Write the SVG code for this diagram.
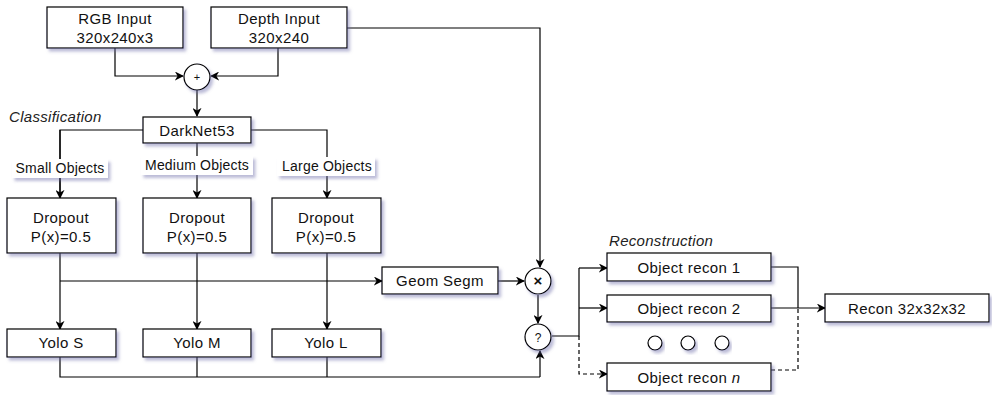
<svg xmlns="http://www.w3.org/2000/svg" width="992" height="395" viewBox="0 0 992 395">
<style>
.box{fill:#fff;stroke:#000;stroke-width:1.2;filter:url(#sh)}
.circ{fill:#fff;stroke:#000;stroke-width:1.2;filter:url(#sh)}
.t{font-family:"Liberation Sans",Arial,sans-serif;font-size:15px;letter-spacing:0.4px;fill:#111;text-anchor:middle}
.s{font-size:14px;letter-spacing:0.2px}
.it{font-family:"Liberation Sans",Arial,sans-serif;font-size:15px;letter-spacing:0.3px;font-style:italic;fill:#222}
.c{fill:none;stroke:#000;stroke-width:1.2}
.a{marker-end:url(#ar)}
.d{stroke-dasharray:4 3}
.lb{fill:#fff}
</style>
<defs>
<filter id="sh" x="-20%" y="-20%" width="140%" height="150%">
<feDropShadow dx="2.5" dy="3" stdDeviation="1.8" flood-color="#6a6aa8" flood-opacity="0.45"/>
</filter>
<marker id="ar" viewBox="0 0 10 10" refX="9" refY="5" markerWidth="9" markerHeight="9" markerUnits="userSpaceOnUse" orient="auto">
<path d="M0,0 L10,5 L0,10 L3,5 Z" fill="#000"/>
</marker>
</defs>
<rect width="992" height="395" fill="#fff"/>
<g id="connectors">
<path class="c a" d="M115,48 V76 H183"/>
<path class="c a" d="M278,48 V76 H211"/>
<path class="c a" d="M197,90 V116"/>
<path class="c a" d="M347,28 H540 V267"/>
<path class="c" d="M143,130 H60 V197"/>
<path class="c a" d="M60,130 V198"/>
<path class="c a" d="M197,143 V198"/>
<path class="c a" d="M251,130 H327 V198"/>
<path class="c a" d="M60,253 V329"/>
<path class="c a" d="M197,253 V329"/>
<path class="c a" d="M327,253 V329"/>
<path class="c a" d="M60,281 H382"/>
<path class="c a" d="M498,281 H524"/>
<path class="c a" d="M538,295 V323"/>
<path class="c" d="M60,357 V377 H540"/>
<path class="c" d="M197,357 V377"/>
<path class="c" d="M327,357 V377"/>
<path class="c a" d="M540,377 V351"/>
<path class="c" d="M552,336 H579 V268"/>
<path class="c a" d="M579,268 H607"/>
<path class="c a" d="M579,308 H607"/>
<path class="c d a" d="M579,336 V374 H607"/>
<path class="c" d="M771,267 H798 V308"/>
<path class="c a" d="M771,308 H825"/>
<path class="c d" d="M771,370 H798 V308"/>
</g>
<g id="rgb"><rect class="box" x="47" y="7" width="136" height="41"/><text class="t" x="115" y="24">RGB Input</text><text class="t" x="115" y="42.5">320x240x3</text></g>
<g id="depth"><rect class="box" x="211" y="7" width="136" height="41"/><text class="t" x="279" y="24">Depth Input</text><text class="t" x="279" y="42.5">320x240</text></g>
<g id="plus"><circle class="circ" cx="197" cy="77" r="13"/><text class="t" x="197" y="81" style="font-size:11px;letter-spacing:0">+</text></g>
<g id="classification-label"><text class="it" x="9" y="122">Classification</text></g>
<g id="darknet"><rect class="box" x="143" y="117" width="108" height="26"/><text class="t" x="197" y="136">DarkNet53</text></g>
<g id="lbl-small"><rect class="lb" x="12" y="159" width="96" height="19" filter="url(#sh)"/><text class="t s" x="60" y="173">Small Objects</text></g>
<g id="lbl-medium"><rect class="lb" x="141" y="156" width="112" height="19" filter="url(#sh)"/><text class="t s" x="197" y="170">Medium Objects</text></g>
<g id="lbl-large"><rect class="lb" x="277" y="157" width="98" height="19" filter="url(#sh)"/><text class="t s" x="327" y="171">Large Objects</text></g>
<g id="drop1"><rect class="box" x="7" y="198" width="109" height="55"/><text class="t" x="61" y="223">Dropout</text><text class="t" x="61" y="242">P(x)=0.5</text></g>
<g id="drop2"><rect class="box" x="143" y="198" width="108" height="55"/><text class="t" x="197" y="223">Dropout</text><text class="t" x="197" y="242">P(x)=0.5</text></g>
<g id="drop3"><rect class="box" x="272" y="198" width="109" height="55"/><text class="t" x="326" y="223">Dropout</text><text class="t" x="326" y="242">P(x)=0.5</text></g>
<g id="geom"><rect class="box" x="382" y="267" width="116" height="27"/><text class="t" x="440" y="286">Geom Segm</text></g>
<g id="mult"><circle class="circ" cx="538" cy="281" r="13"/><text class="t" x="538" y="286" style="font-size:15px;letter-spacing:0;font-weight:bold">×</text></g>
<g id="question"><circle class="circ" cx="538" cy="337" r="13"/><text class="t" x="538" y="341.5" style="font-size:12px;letter-spacing:0">?</text></g>
<g id="yoloS"><rect class="box" x="7" y="329" width="109" height="28"/><text class="t" x="61" y="348">Yolo S</text></g>
<g id="yoloM"><rect class="box" x="143" y="329" width="108" height="28"/><text class="t" x="197" y="348">Yolo M</text></g>
<g id="yoloL"><rect class="box" x="272" y="329" width="109" height="28"/><text class="t" x="326" y="348">Yolo L</text></g>
<g id="reconstruction-label"><text class="it" x="609" y="246">Reconstruction</text></g>
<g id="recon1"><rect class="box" x="607" y="253" width="164" height="28"/><text class="t" x="689" y="273">Object recon 1</text></g>
<g id="recon2"><rect class="box" x="607" y="295" width="164" height="27"/><text class="t" x="689" y="314">Object recon 2</text></g>
<g id="dots"><circle cx="655" cy="343" r="7" class="circ"/><circle cx="688" cy="343" r="7" class="circ"/><circle cx="722" cy="343" r="7" class="circ"/></g>
<g id="reconN"><rect class="box" x="607" y="363" width="164" height="28"/><text class="t" x="689" y="383">Object recon <tspan font-style="italic">n</tspan></text></g>
<g id="recon32"><rect class="box" x="825" y="294" width="164" height="28"/><text class="t" x="907" y="314">Recon 32x32x32</text></g>
</svg>
